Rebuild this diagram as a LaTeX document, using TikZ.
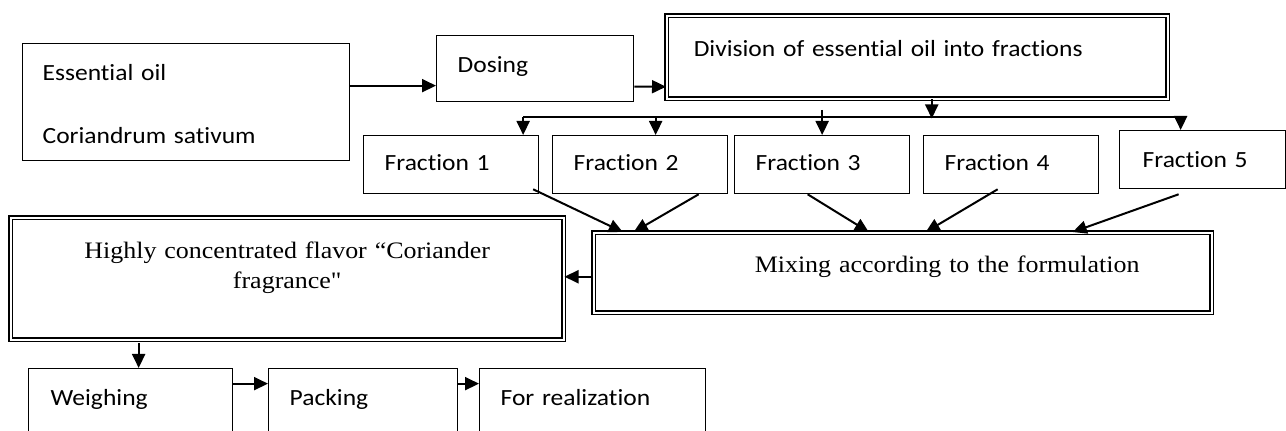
\documentclass[tikz,border=0pt]{standalone}
\usepackage{fontspec}
\setmainfont[Ligatures=NoCommon, FakeStretch=1.1]{Carlito}
\newfontfamily\timesfont[FakeStretch=1.1]{Liberation Serif}
\usetikzlibrary{arrows.meta}

\begin{document}
\begin{tikzpicture}[x=0.5pt, y=-0.5pt,
    box/.style={draw, line width=0.65pt, anchor=north west, inner ysep=0pt, align=left, font=\fontsize{11.6}{13.4}\selectfont},
    dbox/.style={box, double, double distance=1pt, line width=0.75pt},
    frac/.style={box, text width=66.5pt, inner xsep=10.5pt, text height=17.5pt, text depth=11.5pt},
    low/.style={box, text height=18.5pt, text depth=20pt},
    serif/.style={font=\timesfont\fontsize{11.8}{15}\selectfont},
    arr/.style={line width=1pt, -{Triangle[length=7pt,width=6.5pt]}}]
\clip (0,0) rectangle (1286,431);
\node[box, text width=143.5pt, inner xsep=10pt, text height=18.5pt, text depth=40pt] (oil) at (22,43) {Essential oil\\[18.1pt]Coriandrum sativum};
\node[box, text width=77.5pt, inner xsep=10.5pt, text height=18.5pt, text depth=14.5pt] (dose) at (436,35) {Dosing};
\node[dbox, text width=223.5pt, inner xsep=13.5pt, text height=20.5pt, text depth=21pt] (div) at (666,15) {Division of essential oil into fractions};
\foreach \i/\x in {1/363,2/552,3/734,4/923}
    \node[frac] (f\i) at (\x,135) {Fraction \i};
\node[box, text width=60pt, inner xsep=11.5pt, text height=18.5pt, text depth=10.5pt] (f5) at (1119,130) {Fraction 5};
\node[dbox, serif, text width=289pt, inner xsep=10pt, text height=20pt, text depth=20pt] (mix) at (593,232) {\hspace*{70.5pt}Mixing according to the formulation};
\node[dbox, serif, align=center, text width=256.5pt, inner xsep=10pt, text height=20.5pt, text depth=40.5pt] (hi) at (10,217) {Highly concentrated flavor “Coriander\\fragrance"};
\node[low, text width=80pt, inner xsep=11pt] (weigh) at (28,368) {Weighing};
\node[low, text width=73.5pt, inner xsep=10.5pt] (pack) at (268,368) {Packing};
\node[low, text width=92pt, inner xsep=10.5pt] (real) at (479,368) {For realization};

\draw[arr] ([yshift=8.25pt]oil.east) -- ([yshift=-8.5pt]dose.west);
\draw[arr] ([yshift=-9pt]dose.east) -- ([yshift=-14.75pt]div.west);
\draw[arr] ([xshift=7.25pt]div.south) -- ++(0,19);
\draw[arr] ([xshift=36pt,yshift=9pt]f1.north) -- ([xshift=-11pt,yshift=6.5pt]f5.north) -- ([xshift=-11pt]f5.north);
\draw[arr] ([xshift=36pt,yshift=9pt]f1.north) -- ([xshift=36pt]f1.north);
\draw[arr] ([xshift=7.75pt,yshift=9pt]f2.north) -- ([xshift=7.75pt]f2.north);
\draw[arr] ([yshift=12.5pt]f3.north) -- (f3.north);
\draw[arr] ([xshift=41pt,yshift=2.5pt]f1.south) -- ([xshift=-140pt]mix.north);
\draw[arr] ([xshift=29.25pt]f2.south) -- ([xshift=-134.5pt]mix.north);
\draw[arr] ([xshift=-7.25pt]f3.south) -- ([xshift=-17pt]mix.north);
\draw[arr] ([xshift=-6.75pt,yshift=2.5pt]f4.south) -- ([xshift=11.5pt]mix.north);
\draw[arr] ([xshift=-12pt,yshift=-2.5pt]f5.south) -- ([xshift=85pt]mix.north);
\draw[arr] ([yshift=-2pt]mix.west) -- ([yshift=1pt]hi.east);
\draw[arr] ([xshift=4pt,yshift=12.5pt]weigh.north) -- ([xshift=4pt]weigh.north);
\draw[arr] ([yshift=11.75pt]weigh.east) -- ([yshift=11.75pt]pack.west);
\draw[arr] ([yshift=11.75pt]pack.east) -- ([yshift=11.75pt]real.west);
\end{tikzpicture}
\end{document}
